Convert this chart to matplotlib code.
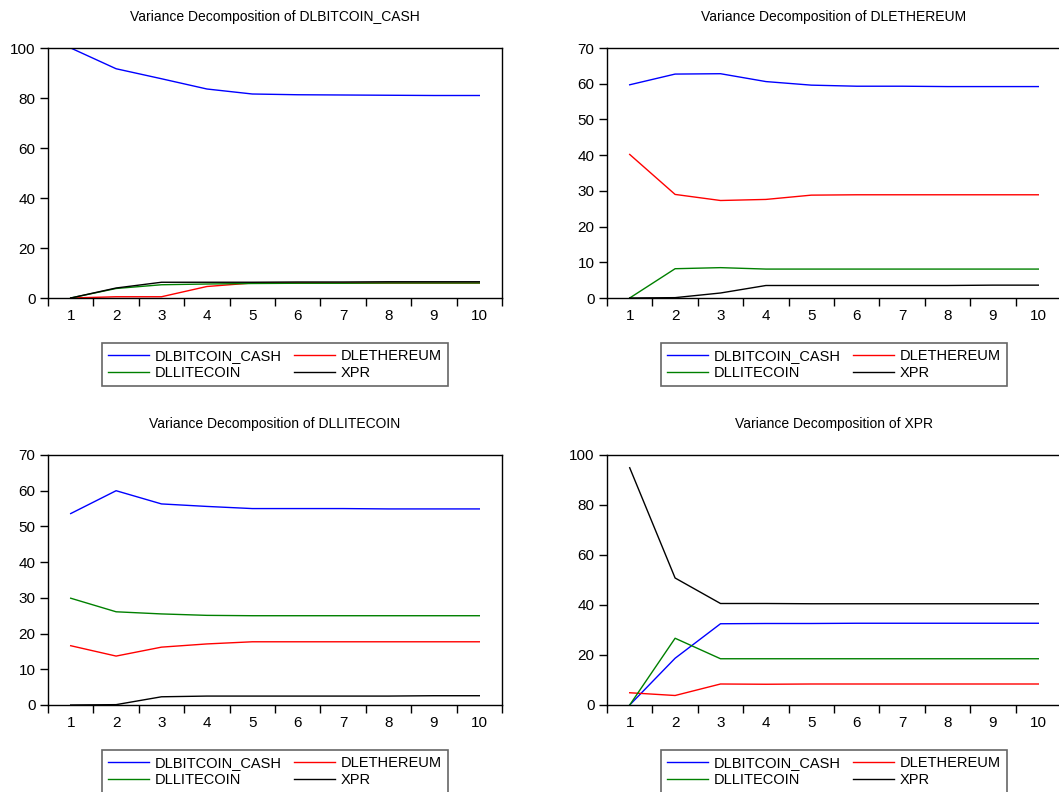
import matplotlib.pyplot as plt
from matplotlib.ticker import MultipleLocator, FixedLocator

plt.rcParams['font.family'] = ['Liberation Sans', 'DejaVu Sans']

# --- Data ---
periods = list(range(1, 11))
series_names = ['DLBITCOIN_CASH', 'DLETHEREUM', 'DLLITECOIN', 'XPR']
series_colors = ['#0000ff', '#ff0000', '#008000', '#000000']

# Variance decomposition of DLBITCOIN_CASH
vd_bch_bch = [100.0, 91.7, 87.7, 83.6, 81.6, 81.3, 81.2, 81.1, 81.0, 81.0]
vd_bch_eth = [0.0, 0.5, 0.5, 4.6, 6.0, 6.0, 6.0, 6.0, 6.0, 6.0]
vd_bch_ltc = [0.0, 3.8, 5.3, 5.6, 5.8, 5.9, 5.9, 6.0, 6.0, 6.0]
vd_bch_xpr = [0.0, 4.0, 6.3, 6.3, 6.3, 6.4, 6.4, 6.5, 6.5, 6.5]

# Variance decomposition of DLETHEREUM
vd_eth_bch = [59.7, 62.7, 62.8, 60.6, 59.6, 59.3, 59.3, 59.2, 59.2, 59.2]
vd_eth_eth = [40.2, 29.0, 27.3, 27.6, 28.8, 28.9, 28.9, 28.9, 28.9, 28.9]
vd_eth_ltc = [0.0, 8.2, 8.5, 8.1, 8.1, 8.1, 8.1, 8.1, 8.1, 8.1]
vd_eth_xpr = [0.0, 0.1, 1.4, 3.5, 3.5, 3.5, 3.5, 3.5, 3.6, 3.6]

# Variance decomposition of DLLITECOIN
vd_ltc_bch = [53.6, 60.0, 56.3, 55.6, 55.0, 55.0, 55.0, 54.9, 54.9, 54.9]
vd_ltc_eth = [16.6, 13.7, 16.2, 17.1, 17.7, 17.7, 17.7, 17.7, 17.7, 17.7]
vd_ltc_ltc = [29.9, 26.1, 25.5, 25.1, 25.0, 25.0, 25.0, 25.0, 25.0, 25.0]
vd_ltc_xpr = [0.0, 0.1, 2.3, 2.5, 2.5, 2.5, 2.5, 2.5, 2.6, 2.6]

# Variance decomposition of XPR
vd_xpr_bch = [0.0, 18.7, 32.5, 32.6, 32.6, 32.7, 32.7, 32.7, 32.7, 32.7]
vd_xpr_eth = [4.9, 3.8, 8.4, 8.3, 8.4, 8.4, 8.4, 8.4, 8.4, 8.4]
vd_xpr_ltc = [0.0, 26.7, 18.5, 18.5, 18.5, 18.5, 18.5, 18.5, 18.5, 18.5]
vd_xpr_xpr = [94.9, 50.8, 40.6, 40.6, 40.5, 40.5, 40.5, 40.5, 40.5, 40.5]

panels = [
    ('Variance Decomposition of DLBITCOIN_CASH',
     [vd_bch_bch, vd_bch_eth, vd_bch_ltc, vd_bch_xpr], 100, 20),
    ('Variance Decomposition of DLETHEREUM',
     [vd_eth_bch, vd_eth_eth, vd_eth_ltc, vd_eth_xpr], 70, 10),
    ('Variance Decomposition of DLLITECOIN',
     [vd_ltc_bch, vd_ltc_eth, vd_ltc_ltc, vd_ltc_xpr], 70, 10),
    ('Variance Decomposition of XPR',
     [vd_xpr_bch, vd_xpr_eth, vd_xpr_ltc, vd_xpr_xpr], 100, 20),
]

W, H = 1059, 792
fig = plt.figure(figsize=(W / 100, H / 100), dpi=100)

# pixel boxes: (left, top) of each axes, all 454 x 250 px
boxes = [(48, 48), (607, 48), (48, 455), (607, 455)]
ax_w, ax_h = 454, 250

for (title, data, ymax, ystep), (px, py) in zip(panels, boxes):
    ax = fig.add_axes([px / W, 1 - (py + ax_h) / H, ax_w / W, ax_h / H])
    lines = []
    for vals, name, col in zip(data, series_names, series_colors):
        ln, = ax.plot(periods, vals, color=col, linewidth=1.0, label=name)
        lines.append(ln)

    ax.set_xlim(0.5, 10.5)
    ax.set_ylim(0, ymax)
    ax.yaxis.set_major_locator(MultipleLocator(ystep))
    ax.xaxis.set_major_locator(FixedLocator(periods))
    ax.xaxis.set_minor_locator(FixedLocator([p + 0.5 for p in range(0, 11)]))
    ax.tick_params(axis='x', which='major', length=0, pad=8, labelsize=11)
    ax.tick_params(axis='x', which='minor', length=6, direction='out', width=1)
    ax.tick_params(axis='y', which='major', length=6, direction='out', width=1,
                   pad=3, labelsize=11)
    for sp in ax.spines.values():
        sp.set_linewidth(1.0)

    cx = (px + ax_w / 2) / W
    fig.text(cx, 1 - (py - 31) / H, title, ha='center', va='center', fontsize=10)

    # legend is filled column-wise, so order handles to read row-wise
    order = [0, 2, 1, 3]
    leg = ax.legend([lines[i] for i in order], [series_names[i] for i in order],
                    loc='upper center', bbox_to_anchor=(cx, 1 - (py + ax_h + 45) / H),
                    bbox_transform=fig.transFigure, ncol=2, fontsize=10.5,
                    frameon=True, fancybox=False, handlelength=2.8,
                    handletextpad=0.45, columnspacing=0.8, labelspacing=0.2,
                    borderpad=0.4, borderaxespad=0)
    leg.get_frame().set_edgecolor('#404040')
    leg.get_frame().set_linewidth(1.2)

fig.savefig('out.png', dpi=100)
